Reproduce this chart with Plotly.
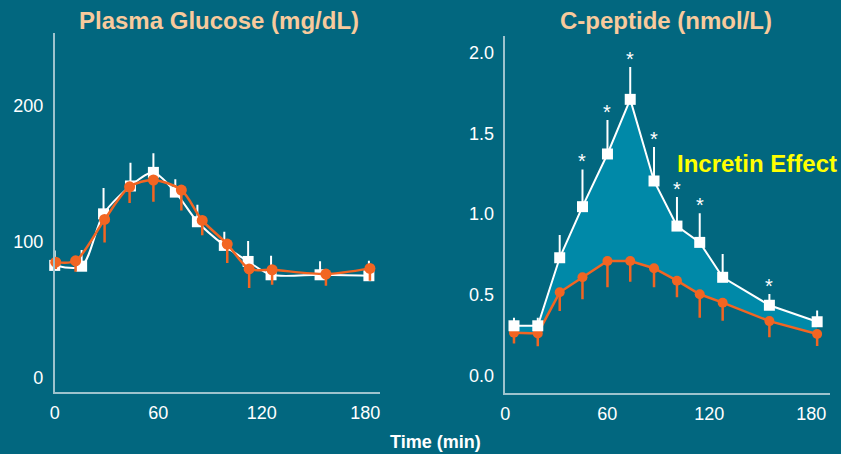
import plotly.graph_objects as go

# ---------------- data ----------------
# Left panel: Plasma glucose (mg/dL)
glu_t_sq = [0, 15.6, 28.3, 43.9, 57.2, 69.9, 82.7, 98.3, 112.1, 125.4, 153.8, 182.1]
glu_sq = [82.6, 82, 120.5, 141, 151, 136.5, 114.7, 97.3, 85.5, 75.7, 75.7, 75]
glu_sq_err = [11, 12, 19, 17, 14, 9.5, 12.5, 10, 15, 14, 10, 11]
glu_t_ci = [0.6, 12.1, 28.9, 43.4, 57.2, 73.4, 85.5, 100, 112.7, 126, 157.2, 182.7]
glu_ci = [85, 86, 116.4, 140.4, 145.4, 138, 115.7, 98.3, 80, 79.4, 76.2, 80.4]
glu_ci_err = [5, 8, 17, 12, 16, 15, 11, 14, 14, 11, 8.6, 9]

# Right panel: C-peptide (nmol/L)
cp_t = [5.1, 19.1, 32, 45.4, 60.1, 73.5, 87.5, 101, 114.4, 127.9, 155.4, 183.5]
cp_sq = [0.309, 0.309, 0.730, 1.046, 1.372, 1.710, 1.205, 0.926, 0.825, 0.609, 0.436, 0.334]
cp_sq_err = [0.05, 0.05, 0.14, 0.23, 0.21, 0.20, 0.21, 0.18, 0.18, 0.144, 0.07, 0.07]
cp_ci = [0.266, 0.262, 0.516, 0.609, 0.710, 0.710, 0.665, 0.588, 0.504, 0.452, 0.338, 0.258]
cp_ci_err = [0.066, 0.08, 0.116, 0.136, 0.163, 0.128, 0.118, 0.103, 0.145, 0.112, 0.10, 0.074]
star_idx = [3, 4, 5, 6, 7, 8, 10]

x_ticks = [0, 60, 120, 180]
glu_ticks = [0, 100, 200]
cp_ticks = [0, 0.5, 1.0, 1.5, 2.0]

# ---------------- style ----------------
W, H = 841, 454
BG = "#02677F"
FILL = "#0089A8"
ORANGE = "#F26522"
WHITE = "#FFFFFF"
AXIS = "#9EC3CD"
PEACH = "#F8CA9C"
FONT = "Liberation Sans, Arial, sans-serif"

fig = go.Figure()

# ---- left panel ----
fig.add_trace(go.Scatter(
    x=glu_t_sq, y=glu_sq, mode="lines+markers",
    line=dict(color=WHITE, width=2, shape="spline", smoothing=0.8),
    marker=dict(symbol="square", size=11, color=WHITE),
    error_y=dict(type="data", symmetric=False, array=glu_sq_err,
                 arrayminus=[0] * len(glu_sq_err), color=WHITE, thickness=2, width=0),
    xaxis="x", yaxis="y", cliponaxis=False, showlegend=False))
fig.add_trace(go.Scatter(
    x=glu_t_ci, y=glu_ci, mode="lines+markers",
    line=dict(color=ORANGE, width=2.5, shape="spline", smoothing=0.8),
    marker=dict(symbol="circle", size=11, color=ORANGE),
    error_y=dict(type="data", symmetric=False, array=[0] * len(glu_ci_err),
                 arrayminus=glu_ci_err, color=ORANGE, thickness=2.5, width=0),
    xaxis="x", yaxis="y", cliponaxis=False, showlegend=False))

# ---- right panel ----
fig.add_trace(go.Scatter(
    x=cp_t, y=cp_ci, mode="lines", line=dict(width=0, color=FILL),
    xaxis="x2", yaxis="y2", showlegend=False, hoverinfo="skip"))
fig.add_trace(go.Scatter(
    x=cp_t, y=cp_sq, mode="lines", line=dict(width=0, color=FILL),
    fill="tonexty", fillcolor=FILL,
    xaxis="x2", yaxis="y2", showlegend=False, hoverinfo="skip"))
fig.add_trace(go.Scatter(
    x=cp_t, y=cp_ci, mode="lines+markers",
    line=dict(color=ORANGE, width=2.5),
    marker=dict(symbol="circle", size=10, color=ORANGE),
    error_y=dict(type="data", symmetric=False, array=[0] * len(cp_ci_err),
                 arrayminus=cp_ci_err, color=ORANGE, thickness=2.5, width=0),
    xaxis="x2", yaxis="y2", cliponaxis=False, showlegend=False))
fig.add_trace(go.Scatter(
    x=cp_t, y=cp_sq, mode="lines+markers",
    line=dict(color=WHITE, width=2),
    marker=dict(symbol="square", size=11, color=WHITE),
    error_y=dict(type="data", symmetric=False, array=cp_sq_err,
                 arrayminus=[0] * len(cp_sq_err), color=WHITE, thickness=2, width=0),
    xaxis="x2", yaxis="y2", cliponaxis=False, showlegend=False))

star_annots = [
    dict(x=cp_t[i], y=cp_sq[i] + cp_sq_err[i], xref="x2", yref="y2", text="*",
         showarrow=False, xanchor="center", yanchor="bottom", yshift=-5,
         font=dict(color=WHITE, size=20, family=FONT))
    for i in star_idx
]

axis_common = dict(showgrid=False, zeroline=False, showline=True, linecolor=AXIS,
                   linewidth=1.5, ticks="", tickfont=dict(color=WHITE, size=18, family=FONT))

fig.update_layout(
    width=W, height=H, margin=dict(l=0, r=0, t=0, b=0),
    paper_bgcolor=BG, plot_bgcolor=BG,
    xaxis=dict(domain=[50 / W, 377 / W], range=[-0.01, 188.4], tickvals=x_ticks,
               anchor="y", ticklabelstandoff=4, **axis_common),
    yaxis=dict(domain=[(H - 392) / H, (H - 33) / H], range=[-10.5, 253.5], tickvals=glu_ticks,
               anchor="x", ticklabelstandoff=6, **axis_common),
    xaxis2=dict(domain=[503.3 / W, 830 / W], range=[-0.01, 191.1], tickvals=x_ticks,
                anchor="y2", ticklabelstandoff=4, **axis_common),
    yaxis2=dict(domain=[(H - 392.7) / H, (H - 36) / H], range=[-0.105, 2.102], tickvals=cp_ticks,
                tickformat=".1f", anchor="x2", ticklabelstandoff=6, **axis_common),
    annotations=[
        dict(text="<b>Plasma Glucose (mg/dL)</b>", x=215 / W, y=1 - 20 / H, xref="paper", yref="paper",
             xanchor="center", yanchor="middle", showarrow=False,
             font=dict(color=PEACH, size=24, family=FONT)),
        dict(text="<b>C-peptide (nmol/L)</b>", x=665 / W, y=1 - 20 / H, xref="paper", yref="paper",
             xanchor="center", yanchor="middle", showarrow=False,
             font=dict(color=PEACH, size=24, family=FONT)),
        dict(text="<b>Time (min)</b>", x=433 / W, y=1 - 442 / H, xref="paper", yref="paper",
             xanchor="center", yanchor="middle", showarrow=False,
             font=dict(color=WHITE, size=18, family=FONT)),
        dict(text="<b>Incretin Effect</b>", x=757 / W, y=1 - 163 / H, xref="paper", yref="paper",
             xanchor="center", yanchor="middle", showarrow=False,
             font=dict(color="#FFFF00", size=24, family=FONT)),
    ] + star_annots,
)

fig.write_html("out.html", config={"displayModeBar": False},
               post_script="document.body.style.margin='0';document.body.style.overflow='hidden';")
